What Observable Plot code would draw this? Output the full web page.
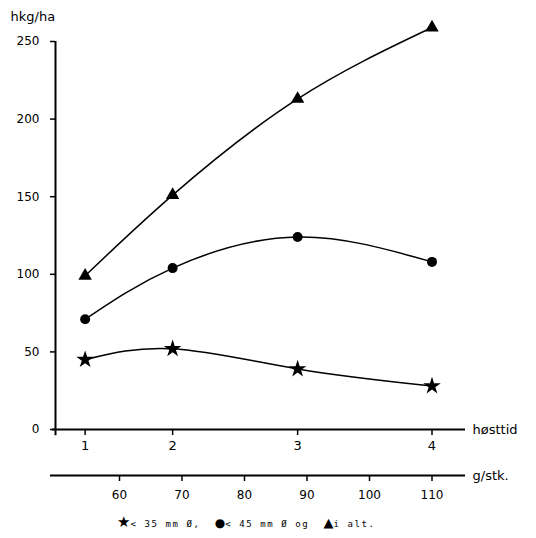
<!DOCTYPE html>
<html><head><meta charset="utf-8">
<script src="https://cdn.jsdelivr.net/npm/d3@7"></script>
<script src="https://cdn.jsdelivr.net/npm/@observablehq/plot@0.6"></script>
<style>
body{margin:0;background:#fff;font-family:"DejaVu Sans",sans-serif;}
#legend{font-family:"DejaVu Sans Mono",monospace;font-size:9px;color:#000;padding-left:117px;height:18px;line-height:18px;margin-top:5px;white-space:pre;letter-spacing:1.6px;}
#legend span{color:#000;}
#legend .sym{font-family:"DejaVu Sans",sans-serif;letter-spacing:0;}
</style></head><body>
<div id="chart"></div>
<div id="legend"></div>
<script>
const harvest = [1, 2, 3, 4];
const harvestWeight = [54.5, 68.5, 88.5, 110];
const weightTicks = [60, 70, 80, 90, 100, 110];
const yTicks = [0, 50, 100, 150, 200, 250];
const under35 = [45, 52, 39, 28];
const under45 = [71, 104, 124, 108];
const total = [99, 151, 213, 259];
const seriesNames = ["< 35 mm Ø,", "< 45 mm Ø og", "i alt."];
const seriesSymbols = ["star", "circle", "triangle"];
const seriesGlyphs = ["★", "●", "▲"];
const glyphSizes = [15, 12, 13];
const xDomain = [49.76, 115.36];

const rows = vals => harvest.map((h, i) => ({h, g: harvestWeight[i], v: vals[i]}));
const series = [rows(under35), rows(under45), rows(total)];
const radii = [5.5, 5, 5];

const chart = Plot.plot({
  width: 536, height: 508,
  marginLeft: 55, marginRight: 71, marginTop: 41, marginBottom: 79,
  style: {fontFamily: "DejaVu Sans, sans-serif", fontSize: "12px", background: "white", color: "black"},
  x: {domain: xDomain, axis: null},
  y: {domain: [0, 250], axis: null},
  marks: [
    Plot.axisY({ticks: yTicks, tickSize: 5, tickPadding: 11, fontSize: 12, label: null, strokeWidth: 1.5}),
    Plot.ruleX([xDomain[0]], {y1: -4, y2: 250, strokeWidth: 2}),
    Plot.ruleY([0], {x1: xDomain[0] - 0.5, x2: xDomain[1], strokeWidth: 2}),
    Plot.axisX({ticks: harvestWeight, tickFormat: d => harvest[harvestWeight.indexOf(d)], tickSize: 6, tickPadding: 5, fontSize: 13, label: null, strokeWidth: 1.5}),
    Plot.text(["høsttid"], {x: [xDomain[1]], y: [0], text: d => d, textAnchor: "start", dx: 7, fontSize: 13}),
    Plot.ruleY([0], {x1: xDomain[0] - 0.8, x2: xDomain[1], dy: 46, strokeWidth: 2}),
    Plot.axisX({ticks: weightTicks, tickSize: 6, tickPadding: 9, dy: 46, fontSize: 12, label: null, strokeWidth: 1.5}),
    Plot.text(["g/stk."], {x: [xDomain[1]], y: [0], text: d => d, textAnchor: "start", dx: 7, dy: 46, fontSize: 13}),
    Plot.text(["hkg/ha"], {frameAnchor: "top-left", text: d => d, dx: -45, dy: -25, lineAnchor: "middle", textAnchor: "start", fontSize: 13}),
    ...series.map(d => Plot.line(d, {x: "g", y: "v", curve: "natural", strokeWidth: 1.5, stroke: "black"})),
    ...series.map((d, i) => Plot.dot(d, {x: "g", y: "v", symbol: seriesSymbols[i], r: radii[i], fill: "black", stroke: "none"}))
  ]
});
document.getElementById("chart").append(chart);
document.getElementById("legend").innerHTML = seriesNames.map((n, i) => `<span class="sym" style="font-size:${glyphSizes[i]}px">${seriesGlyphs[i]}</span><span>${n}</span>`).join("  ");
</script>
</body></html>
